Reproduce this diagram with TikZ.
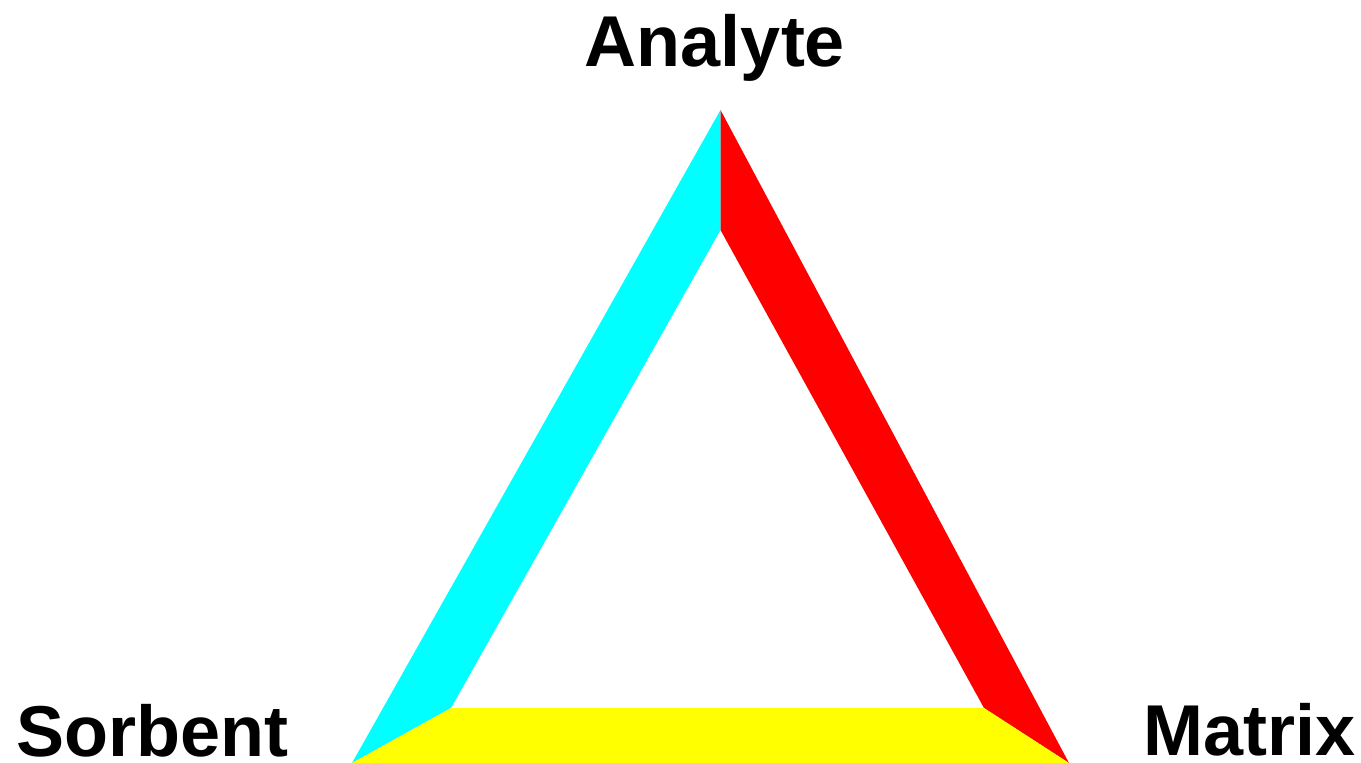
\documentclass[tikz,border=0pt]{standalone}
\usepackage{fontspec}
\setmainfont{Liberation Sans}
\definecolor{bandcyan}{RGB}{0,255,255}
\definecolor{bandred}{RGB}{255,0,0}
\definecolor{bandyellow}{RGB}{255,255,0}
\begin{document}
\begin{tikzpicture}[x=1pt,y=-1pt,
  lbl/.style={anchor=base,inner sep=0pt,font=\fontsize{72}{80}\selectfont\bfseries}]
\useasboundingbox (0,0) rectangle (1361,763);
\coordinate (T) at (720.5,110);
\coordinate (L) at (352,763);
\coordinate (R) at (1069,763);
\coordinate (Ti) at (720.5,230);
\coordinate (Li) at (451,708);
\coordinate (Ri) at (984,708);
\fill[bandcyan] (T) -- (Ti) -- (Li) -- (L) -- cycle;
\fill[bandred] (T) -- (R) -- (Ri) -- (Ti) -- cycle;
\fill[bandyellow] (L) -- (Li) -- (Ri) -- (R) -- cycle;
\node[lbl] (analyte) at (715,66) {Analyte};
\node[lbl] (sorbent) at (152.5,756) {Sorbent};
\node[lbl] (matrix) at (1250,755) {Matrix};
\end{tikzpicture}
\end{document}
